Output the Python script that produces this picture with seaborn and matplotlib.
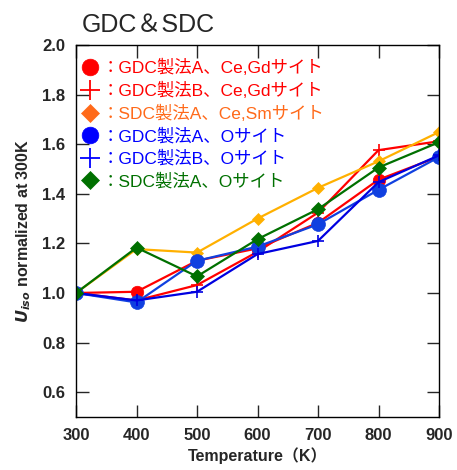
import matplotlib
matplotlib.use("Agg")
import matplotlib.pyplot as plt
from matplotlib.lines import Line2D
import seaborn as sns
import pandas as pd

temperature = [300, 400, 500, 600, 700, 800, 900]
gdc_a_cegd = [1.0, 1.005, 1.13, 1.18, 1.283, 1.457, 1.55]
gdc_b_cegd = [1.0, 0.97, 1.032, 1.166, 1.324, 1.576, 1.612]
sdc_a_cesm = [1.0, 1.177, 1.163, 1.30, 1.424, 1.531, 1.649]
gdc_a_o = [1.0, 0.962, 1.13, 1.187, 1.277, 1.416, 1.548]
gdc_b_o = [1.0, 0.97, 1.005, 1.157, 1.21, 1.447, 1.555]
sdc_a_o = [1.0, 1.183, 1.067, 1.217, 1.338, 1.506, 1.608]

labels = ["：GDC製法A、Ce,Gdサイト", "：GDC製法B、Ce,Gdサイト", "：SDC製法A、Ce,Smサイト",
          "：GDC製法A、Oサイト", "：GDC製法B、Oサイト", "：SDC製法A、Oサイト"]
xticks = [300, 400, 500, 600, 700, 800, 900]
yticks = [0.6, 0.8, 1.0, 1.2, 1.4, 1.6, 1.8, 2.0]

sns.set_style("ticks")
plt.rcParams['font.family'] = ['Liberation Sans', 'Noto Sans CJK JP', 'DejaVu Sans']

fig = plt.figure(figsize=(4.57, 4.70), dpi=100)
ax = fig.add_axes([76/457, 1-417/470, (439-76)/457, (417-45)/470])

series = [gdc_a_cegd, gdc_b_cegd, sdc_a_cesm, gdc_a_o, gdc_b_o, sdc_a_o]
line_colors = ["#FF0000", "#FF0000", "#FFB000", "#1040E0", "#0000E0", "#007000"]
text_colors = ["#FF0000", "#FF0000", "#FF6A1A", "#0000FF", "#0000FF", "#007000"]
leg_marker_colors = ["#FF0000", "#FF0000", "#FF6A1A", "#0000FF", "#0000FF", "#007000"]
markers = ["o", "+", "D", "o", "+", "D"]
msizes = [9, 9, 6, 10, 9, 7]

for vals, c, m, ms in zip(series, line_colors, markers, msizes):
    df = pd.DataFrame({"T": temperature, "U": vals})
    sns.lineplot(data=df, x="T", y="U", ax=ax, color=c, marker=m, markersize=ms,
                 linewidth=1.6, markeredgecolor=c, markeredgewidth=1.2 if m == "+" else 0.5)

ax.set_xlim(300, 900)
ax.set_ylim(0.5, 2.0)
ax.set_xticks(xticks)
ax.set_yticks(yticks)
ax.tick_params(direction="in", length=9, width=1, top=True, right=True,
               labelsize=12, pad=8)
for lab in ax.get_xticklabels() + ax.get_yticklabels():
    lab.set_fontweight("bold")
for s in ax.spines.values():
    s.set_visible(True)
    s.set_linewidth(1)
    s.set_color("black")

ax.set_xlabel("Temperature（K）", fontsize=11.5, fontweight="bold", labelpad=3)
ax.set_ylabel(r"$\mathbfit{U}_{\mathbfit{iso}}$ normalized at 300K",
              fontsize=11.5, fontweight="bold", labelpad=6)

handles = [Line2D([], [], linestyle="None", marker=m, color=c, markersize=s,
                  markeredgewidth=1.3 if m == "+" else 0.5)
           for m, c, s in zip(markers, leg_marker_colors, [12, 14, 9, 12, 14, 9])]
leg = ax.legend(handles, labels, loc="upper left", bbox_to_anchor=(-0.025, 0.995),
                frameon=False, handletextpad=0.0, handlelength=1.3,
                labelspacing=0.33, borderaxespad=0.3,
                prop={"family": ['Liberation Sans', 'Noto Sans CJK JP', 'DejaVu Sans'], "size": 12.5})
for t, c in zip(leg.get_texts(), text_colors):
    t.set_color(c)

fig.text(82/457, 1-25/470, "GDC＆SDC", fontsize=18, va="center", ha="left",
         family=['Liberation Sans', 'Noto Sans CJK JP', 'DejaVu Sans'])

fig.savefig("out.png", dpi=100)
